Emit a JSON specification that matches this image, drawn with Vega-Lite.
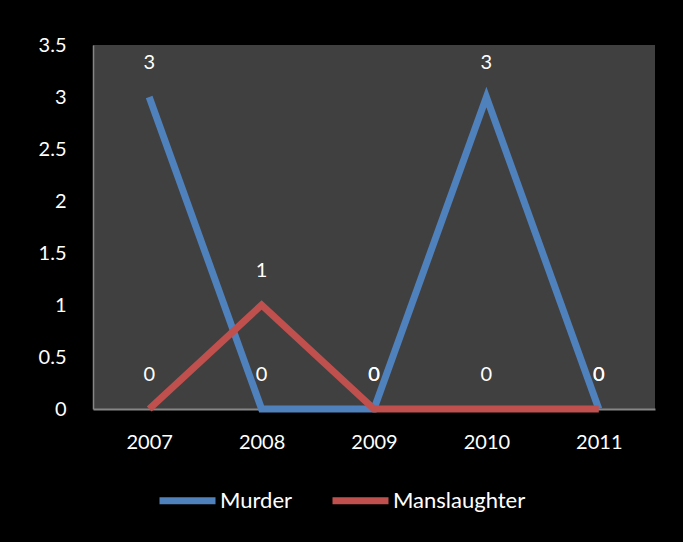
{
  "$schema": "https://vega.github.io/schema/vega-lite/v6.json",
  "width": 562,
  "height": 364,
  "autosize": {"type": "none"},
  "padding": {"left": 93, "top": 45, "right": 28, "bottom": 133},
  "background": "#000000",
  "config": {
    "font": "Lato",
    "view": {"fill": "#404040", "stroke": null},
    "axis": {"labelColor": "#ffffff", "labelFontSize": 20, "labelFont": "Lato", "ticks": false, "grid": false, "domainColor": "#868686", "domainWidth": 2, "title": null}
  },
  "data": {
    "values": [
      {"year": "2007", "series": "Murder", "value": 3},
      {"year": "2008", "series": "Murder", "value": 0},
      {"year": "2009", "series": "Murder", "value": 0},
      {"year": "2010", "series": "Murder", "value": 3},
      {"year": "2011", "series": "Murder", "value": 0},
      {"year": "2007", "series": "Manslaughter", "value": 0},
      {"year": "2008", "series": "Manslaughter", "value": 1},
      {"year": "2009", "series": "Manslaughter", "value": 0},
      {"year": "2010", "series": "Manslaughter", "value": 0},
      {"year": "2011", "series": "Manslaughter", "value": 0}
    ]
  },
  "encoding": {
    "x": {"field": "year", "type": "ordinal", "scale": {"type": "point", "padding": 0.5}, "axis": {"labelAngle": 0, "labelPadding": 23}},
    "y": {"field": "value", "type": "quantitative", "scale": {"domain": [0, 3.5], "nice": false}, "axis": {"values": [0, 0.5, 1, 1.5, 2, 2.5, 3, 3.5], "format": "~g", "labelPadding": 27, "domainWidth": 1.5}}
  },
  "layer": [
    {
      "mark": {"type": "line", "strokeWidth": 7, "strokeJoin": "miter"},
      "encoding": {
        "color": {"field": "series", "type": "nominal", "sort": ["Murder", "Manslaughter"],
          "scale": {"domain": ["Murder", "Manslaughter"], "range": ["#4F81BD", "#C0504D"]},
          "legend": {"title": null, "orient": "none", "direction": "horizontal", "legendX": 63, "legendY": 424,
            "symbolType": "stroke", "symbolSize": 3136, "symbolStrokeWidth": 7, "labelColor": "#ffffff", "labelFontSize": 22, "labelFont": "Lato", "labelOffset": 1, "columnPadding": 25}
        },
        "order": {"field": "series", "sort": "descending"}
      }
    },
    {
      "mark": {"type": "text", "dy": -34, "fontSize": 20, "color": "#ffffff", "font": "Lato"},
      "encoding": {"text": {"field": "value", "type": "quantitative"}}
    }
  ]
}
